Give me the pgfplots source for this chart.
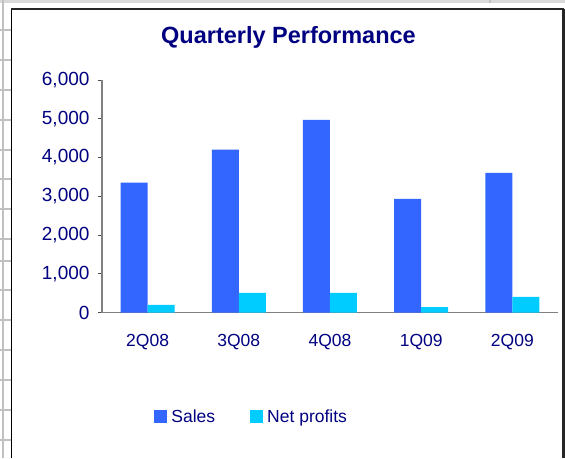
\documentclass[border=0pt]{standalone}
\usepackage{pgfplots}
\pgfplotsset{compat=1.18}
\usepackage{fontspec}
\setmainfont{Liberation Sans}
\definecolor{salesblue}{HTML}{3366FF}
\definecolor{netcyan}{HTML}{00CCFF}
\definecolor{navy}{HTML}{000080}
\definecolor{axgray}{HTML}{808080}
\definecolor{gridgray}{HTML}{C0C0C0}
\begin{document}
\begin{tikzpicture}[x=1pt,y=1pt]
\useasboundingbox (0,0) rectangle (565,458);
% spreadsheet background outside the chart
\fill[gridgray!60] (0,455) rectangle (565,458);
\draw[gridgray,line width=1.2pt] (3,0) -- (3,458);
\foreach \yy in {30,60,90,120,150,179,209,239,261,290,320,350,380,410,440}
  \draw[gridgray,line width=1.2pt] (0,458-\yy) -- (11,458-\yy);
\draw[gridgray,line width=1.2pt] (490,455) -- (490,458);
% chart frame
\fill[white] (11,0) rectangle (564,449);
\draw[black,line width=1pt] (11.5,0) -- (11.5,449);
\draw[black!85,line width=1.5pt] (11,449) -- (564,449);
\draw[black!85,line width=2.2pt] (563.5,449) -- (563.5,0);
% title
\node[font=\fontsize{23.5}{26}\selectfont\bfseries,text=navy] at (288.5,421) {Quarterly Performance};
\begin{axis}[
  at={(102pt,145.5pt)}, anchor=south west,
  scale only axis, width=456pt, height=232.5pt,
  xmin=-0.5, xmax=4.5, ymin=0, ymax=6000,
  ybar=0pt, bar width=27pt,
  axis x line=bottom, axis y line=left,
  axis line style={axgray,line width=1.2pt,-},
  xtick={0,1,2,3,4},
  xticklabels={2Q08,3Q08,4Q08,1Q09,2Q09},
  x tick style={draw=none},
  extra x ticks={-0.5,0.5,1.5,2.5,3.5,4.5},
  extra x tick labels={},
  extra x tick style={tick style={draw=black!70,line width=0.8pt}, major tick length=5pt, tick align=outside},
  ytick={0,1000,2000,3000,4000,5000,6000},
  y tick style={draw=black!70,line width=0.8pt},
  major tick length=4pt, tick align=outside,
  tick label style={font=\fontsize{17.5}{19}\selectfont,text=navy},
  yticklabel style={xshift=-5pt,font=\fontsize{19}{21}\selectfont},
  xticklabel style={yshift=-14pt},
  /pgf/number format/.cd, 1000 sep={,}, assume math mode=true,
  /pgfplots/.cd,
  scaled y ticks=false,
  legend style={at={(0.108,-0.449)}, anchor=west, draw=none, fill=none,
    legend columns=2, font=\fontsize{17.5}{19}\selectfont, text=navy,
    /tikz/every even column/.append style={column sep=33pt}},
  legend image code/.code={\fill[#1,draw=none] (0pt,-6.5pt) rectangle (12.5pt,6.5pt); \path (0pt,0pt) -- (15pt,0pt);},
]
\addplot[fill=salesblue,draw=none] coordinates {(0,3350) (1,4200) (2,4970) (3,2930) (4,3600)};
\addplot[fill=netcyan,draw=none] coordinates {(0,195) (1,505) (2,505) (3,140) (4,400)};
\legend{Sales,Net profits}
\end{axis}
\end{tikzpicture}
\end{document}
